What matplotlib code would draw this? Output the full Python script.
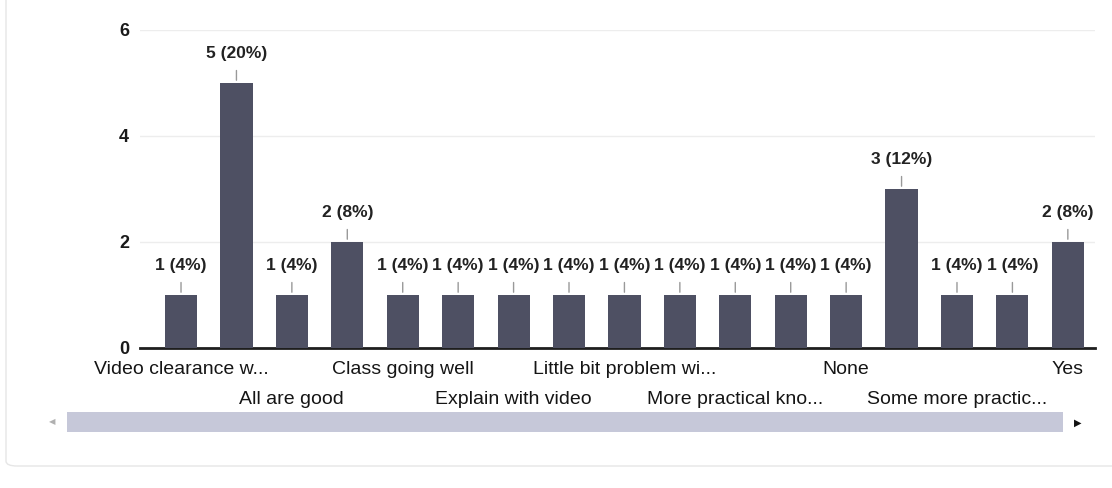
import matplotlib
matplotlib.use("Agg")
import matplotlib.pyplot as plt
import matplotlib.transforms as mtransforms
from matplotlib.patches import Rectangle, FancyBboxPatch

plt.rcParams["font.family"] = ["Liberation Sans", "DejaVu Sans"]

# responses per answer (25 responses in total); only every other name is shown on the axis
categories = ["Video clearance w...", "", "All are good", "", "Class going well", "",
              "Explain with video", "", "Little bit problem wi...", "", "More practical kno...", "",
              "None", "", "Some more practic...", "", "Yes"]
counts = [1, 5, 1, 2, 1, 1, 1, 1, 1, 1, 1, 1, 1, 3, 1, 1, 2]
total = 25
y_ticks = [0, 2, 4, 6]

fig = plt.figure(figsize=(11.12, 4.88), dpi=100)
fig.patch.set_facecolor("white")

# light card outline like the forms page
fig.add_artist(FancyBboxPatch((6 / 1112, 22 / 488), 1.1, 1.1, boxstyle="round,pad=0,rounding_size=0.01",
                              transform=fig.transFigure, fc="none", ec="#e6e6e6", lw=1))

ax = fig.add_axes([140 / 1112, 140 / 488, 955 / 1112, 318 / 488])
x = list(range(len(counts)))
ax.bar(x, counts, width=0.58, color="#4e5063", zorder=3)
ax.set_xlim(-0.74, 16.49)
ax.set_ylim(0, 6)

ax.set_yticks(y_ticks)
ax.set_yticklabels([str(v) for v in y_ticks], fontsize=13, fontweight="bold", color="#1a1a1a")
ax.grid(axis="y", color="#ededed", lw=1, zorder=0)
for s in ["top", "right", "left"]:
    ax.spines[s].set_visible(False)
ax.spines["bottom"].set_color("#1e1e1e")
ax.spines["bottom"].set_linewidth(2)
ax.tick_params(axis="both", length=0)
ax.tick_params(axis="y", pad=8)
ax.set_xticks([])

# category names in two staggered rows
trans = mtransforms.blended_transform_factory(ax.transData, ax.transAxes)
for i, c in enumerate(categories):
    if not c:
        continue
    row_y = -22 / 318 if i % 4 == 0 else -52 / 318
    ax.text(i, row_y, c, transform=trans, ha="center", va="center",
            fontsize=14, color="#151515")

for xi, v in zip(x, counts):
    ax.annotate(f"{v} ({round(v / total * 100)}%)", xy=(xi, v), xytext=(0, 16),
                textcoords="offset points", ha="center", va="bottom",
                fontsize=12.5, fontweight="bold", color="#222222", zorder=5)
    ax.annotate("", xy=(xi, v), xytext=(0, 11), textcoords="offset points",
                arrowprops=dict(arrowstyle="-", color="#999999", lw=1), zorder=4)

# horizontal scrollbar under the chart
fig.add_artist(Rectangle((67 / 1112, 56 / 488), 996 / 1112, 20 / 488,
                         transform=fig.transFigure, fc="#c6c8d9", ec="none"))
fig.text(52 / 1112, 66 / 488, "◀", fontsize=6, color="#b0b0b0", ha="center", va="center",
         family="DejaVu Sans")
fig.text(1078 / 1112, 65 / 488, "▶", fontsize=7, color="#111111", ha="center", va="center",
         family="DejaVu Sans")

fig.savefig("out.png", dpi=100)
